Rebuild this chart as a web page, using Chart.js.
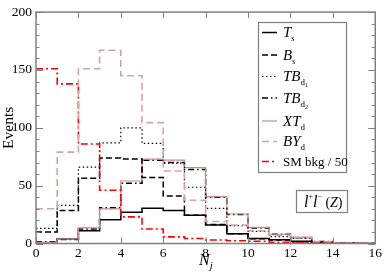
<!DOCTYPE html>
<html>
<head>
<meta charset="utf-8">
<script src="https://cdn.jsdelivr.net/npm/chart.js@4.4.1/dist/chart.umd.min.js"></script>
<style>
  html, body { margin: 0; padding: 0; background: #fff; }
  #wrap { width: 384px; height: 278px; }
</style>
</head>
<body>
<div id="wrap"><canvas id="c" width="384" height="278"></canvas></div>
<script>
/* N_j bins (lower edges), last bin ends at 16 */
const njBins = [0, 1, 2, 3, 4, 5, 6, 7, 8, 9, 10, 11, 12, 13, 14, 15];
const njMax  = 16;

const tS    = [0.7, 4, 11, 20.5, 27, 30.5, 28.5, 24.5, 16, 8.5, 4.3, 3.2, 2, 1, 0.3, 0];
const bS    = [10, 28.5, 56.5, 74, 73, 57, 41, 24.5, 16.5, 8.5, 4, 3, 1.5, 0.8, 0.3, 0];
const tbD1  = [13, 33, 66, 87, 100, 86.5, 69.5, 48.6, 30.4, 15.5, 10.5, 6, 4.5, 1.5, 0.3, 0];
const tbD2  = [1.5, 3.5, 12.5, 31, 52, 72, 70, 64, 40, 25, 13.5, 8, 5, 1.8, 0.3, 0];
const xtD   = [1, 4, 13.5, 30, 54, 73, 72, 65.5, 40.5, 25.5, 14, 8, 5.5, 1.5, 0.2, 0];
const byD   = [30, 79, 151, 167, 145, 104.5, 62.6, 37.4, 19, 16, 11, 7, 5, 1.5, 0.3, 0];
const smBkg = [151, 138, 86, 46, 23, 12.5, 5.7, 4.3, 3, 2.4, 2, 1, 0.5, 0.3, 0, 0];

const xTicks = [0, 2, 4, 6, 8, 10, 12, 14, 16];
const yTicks = [0, 50, 100, 150, 200];

const SERIF = '"Liberation Serif", "DejaVu Serif", "Times New Roman", serif';

function hist(vals) {
  const pts = njBins.map((x, i) => ({ x, y: vals[i] }));
  pts.push({ x: njMax, y: vals[vals.length - 1] });
  return pts;
}

function ds(vals, color, width, dash) {
  return {
    data: hist(vals), borderColor: color, borderWidth: width, borderDash: dash,
    stepped: 'before', pointRadius: 0, fill: false, tension: 0
  };
}

const datasets = [
  ds(byD,   '#d4a4a4', 1.6, [7, 4]),
  ds(smBkg, '#ff0000', 1.6, [7, 3, 2, 3]),
  ds(tbD1,  '#000000', 1.2, [1.5, 2.5]),
  ds(bS,    '#000000', 1.5, [6, 3]),
  ds(xtD,   '#c48a8a', 1.2, []),
  ds(tbD2,  '#000000', 1.5, [6, 3, 1.5, 3]),
  ds(tS,    '#000000', 1.5, [])
];

/* draw a run of text pieces: [text, italic, size, dy] */
function rich(ctx, x, y, parts) {
  parts.forEach(([t, it, size, dy]) => {
    ctx.font = `${it ? 'italic ' : ''}${size}px ${SERIF}`;
    ctx.fillText(t, x, y + dy);
    x += ctx.measureText(t).width;
  });
  return x;
}

const framePlugin = {
  id: 'frame',
  afterDraw(chart) {
    const { ctx, chartArea: a, scales: { x, y } } = chart;
    ctx.save();
    ctx.strokeStyle = '#808080';
    ctx.lineWidth = 1.5;
    ctx.setLineDash([]);
    ctx.strokeRect(a.left, a.top, a.right - a.left, a.bottom - a.top);
    ctx.lineWidth = 1;
    ctx.beginPath();
    xTicks.forEach(v => {
      const px = Math.round(x.getPixelForValue(v)) + 0.5;
      ctx.moveTo(px, a.bottom); ctx.lineTo(px, a.bottom - 6);
      ctx.moveTo(px, a.top);    ctx.lineTo(px, a.top + 6);
    });
    for (let v = 0; v <= 200; v += 10) {
      const py = Math.round(y.getPixelForValue(v)) + 0.5;
      const len = v % 50 === 0 ? 7 : 3.5;
      ctx.moveTo(a.left, py);  ctx.lineTo(a.left + len, py);
      ctx.moveTo(a.right, py); ctx.lineTo(a.right - len, py);
    }
    ctx.stroke();

    /* axis titles */
    ctx.fillStyle = '#000';
    ctx.textBaseline = 'alphabetic';
    rich(ctx, 199, 265, [['N', true, 16, 0], ['j', true, 11, 4]]);
    ctx.save();
    ctx.translate(13, (a.top + a.bottom) / 2);
    ctx.rotate(-Math.PI / 2);
    ctx.font = `15.5px ${SERIF}`;
    ctx.textAlign = 'center';
    ctx.fillText('Events', 0, 0);
    ctx.restore();

    /* legend box */
    ctx.fillStyle = '#fff';
    ctx.fillRect(258, 22, 89, 151);
    ctx.strokeStyle = '#808080';
    ctx.lineWidth = 1.2;
    ctx.strokeRect(258.5, 22.5, 88, 150);

    const rows = [
      [6, 32.5,  [['T', true, 15, 0], ['s', false, 8, 4]]],
      [3, 55,    [['B', true, 15, 0], ['s', false, 8, 4]]],
      [2, 76.5,  [['TB', true, 15, 0], ['d', false, 9, 4], ['1', false, 6, 6]]],
      [5, 98,    [['TB', true, 15, 0], ['d', false, 9, 4], ['2', false, 6, 6]]],
      [4, 121,   [['XT', true, 15, 0], ['d', false, 9, 4]]],
      [0, 141.5, [['BY', true, 15, 0], ['d', false, 9, 4]]],
      [1, 161.5, [['SM bkg / 50', false, 13, 0]]]
    ];
    rows.forEach(([i, ly, parts]) => {
      const d = chart.data.datasets[i];
      ctx.strokeStyle = d.borderColor;
      ctx.lineWidth = d.borderWidth;
      ctx.setLineDash(d.borderDash);
      ctx.beginPath();
      ctx.moveTo(262, ly); ctx.lineTo(277, ly);
      ctx.stroke();
      ctx.setLineDash([]);
      ctx.fillStyle = '#000';
      rich(ctx, 283, ly + 4.5, parts);
    });

    /* channel label */
    ctx.fillStyle = '#fff';
    ctx.fillRect(296, 190, 52, 23);
    ctx.strokeStyle = '#808080';
    ctx.lineWidth = 1.2;
    ctx.strokeRect(296.5, 190.5, 51, 22);
    ctx.fillStyle = '#000';
    rich(ctx, 304, 207, [
      ['l', true, 16, 0], ['+', false, 8, -8], ['l', true, 16, 0], ['\u2212', false, 8, -8],
      [' (', false, 14, 0], ['Z', true, 14, 0], [')', false, 14, 0]
    ]);
    ctx.restore();
  }
};

new Chart(document.getElementById('c'), {
  type: 'line',
  data: { datasets },
  options: {
    responsive: false,
    animation: false,
    layout: { padding: { top: 5, right: 8.5, left: 0, bottom: 0 } },
    plugins: { legend: { display: false }, tooltip: { enabled: false } },
    scales: {
      x: {
        type: 'linear', min: 0, max: njMax,
        afterFit: s => { s.height = 34.5; },
        afterBuildTicks: s => { s.ticks = xTicks.map(v => ({ value: v })); },
        ticks: { color: '#000', font: { family: SERIF, size: 13.5 }, padding: 2, maxRotation: 0 },
        grid: { display: false, drawTicks: false },
        border: { display: false }
      },
      y: {
        min: 0, max: 200,
        afterFit: s => { s.width = 36; },
        afterBuildTicks: s => { s.ticks = yTicks.map(v => ({ value: v })); },
        ticks: { color: '#000', font: { family: SERIF, size: 13.5 }, padding: 4 },
        grid: { display: false, drawTicks: false },
        border: { display: false }
      }
    }
  },
  plugins: [framePlugin]
});
</script>
</body>
</html>
